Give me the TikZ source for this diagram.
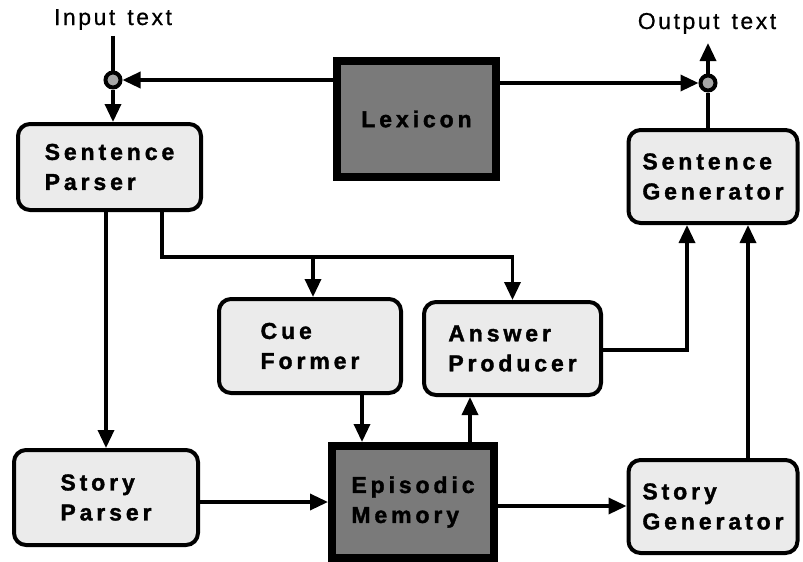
\documentclass[tikz,border=0pt]{standalone}
\usepackage{fontspec}
\usetikzlibrary{arrows.meta}
\newfontfamily\boxfont[LetterSpace=17,FakeBold=1.5]{Liberation Sans Bold}
\newfontfamily\lblfont[LetterSpace=11,FakeBold=0.6]{Liberation Sans}
\begin{document}
\begin{tikzpicture}[x=1pt,y=-1pt,
  rbox/.style={draw,line width=4pt,rounded corners=12pt,fill=black!8,align=left,
    font=\boxfont\fontsize{23}{30}\selectfont,inner sep=0pt},
  dbox/.style={draw,line width=8pt,fill=black!52,align=left,
    font=\boxfont\fontsize{23}{30}\selectfont,inner sep=0pt},
  junc/.style={circle,draw,line width=4pt,fill=black!35,minimum size=15pt,inner sep=0pt},
  lbl/.style={font=\lblfont\fontsize{23}{26}\selectfont,inner sep=0pt},
  conn/.style={line width=3.4pt},
  arr/.style={conn,-{Triangle[length=18pt,width=16pt]}}]
\useasboundingbox (0,0) rectangle (803,562);
% nodes
\node[rbox,minimum width=183pt,minimum height=86pt] (SP) at (109.5,167) {Sentence\\Parser};
\node[rbox,minimum width=169pt,minimum height=93pt] (SG) at (713,176.5) {Sentence\\Generator};
\node[rbox,minimum width=182pt,minimum height=94pt] (CF) at (310,346) {Cue\\Former};
\node[rbox,minimum width=177pt,minimum height=93pt] (AP) at (512.5,348.5) {Answer\\Producer};
\node[rbox,minimum width=184pt,minimum height=95pt] (StP) at (106,497.5) {Story\\Parser};
\node[rbox,minimum width=169pt,minimum height=93pt] (StG) at (713,506.5) {Story\\Generator};
\node[dbox,minimum width=159pt,minimum height=116pt] (Lex) at (416.5,119) {Lexicon};
\node[dbox,minimum width=162pt,minimum height=112pt] (EM) at (413,502) {Episodic\\Memory};
\node[junc] (IC) at (113,80) {};
\node[junc] (OC) at (708,83) {};
\node[lbl,anchor=base] (in) at (113,25) {Input\hspace{12pt}text};
\node[lbl,anchor=base] (out) at (707,29) {Output\hspace{12pt}text};
\coordinate (outtip) at (708,43);
\coordinate (br) at (162,257);
% connectors
\draw[conn,shorten <=6pt] (in.south) -- (IC);
\draw[arr] (IC) -- (IC |- SP.north);
\draw[arr] ([yshift=39pt]Lex.west) -- (IC);
\draw[arr] ([yshift=36pt]Lex.east) -- (OC);
\draw[arr] (OC) -- (outtip);
\draw[conn] (SG.north -| OC) -- (OC);
\draw[arr] (SP.south -| StP.north) -- (StP.north);
\draw[arr] (SP.south -| br) |- (AP.north |- br) -- (AP.north);
\draw[arr] ([xshift=3pt]CF.north |- br) -- ([xshift=3pt]CF.north);
\draw[arr] ([xshift=52pt]CF.south) -- ([xshift=52pt]CF.south |- EM.north);
\draw[arr] ([xshift=57pt]EM.north) -- ([xshift=57pt]EM.north |- AP.south);
\draw[arr] ([yshift=-1.5pt]AP.east) -| ([xshift=-26pt]SG.south);
\draw[arr] ([xshift=35pt]StG.north) -- ([xshift=35pt]StG.north |- SG.south);
\draw[arr] ([yshift=-4.5pt]StP.east) -- ([yshift=-4.5pt]StP.east -| EM.west);
\draw[arr] ([yshift=-4pt]EM.east) -- ([yshift=-4pt]EM.east -| StG.west);
\end{tikzpicture}
\end{document}
